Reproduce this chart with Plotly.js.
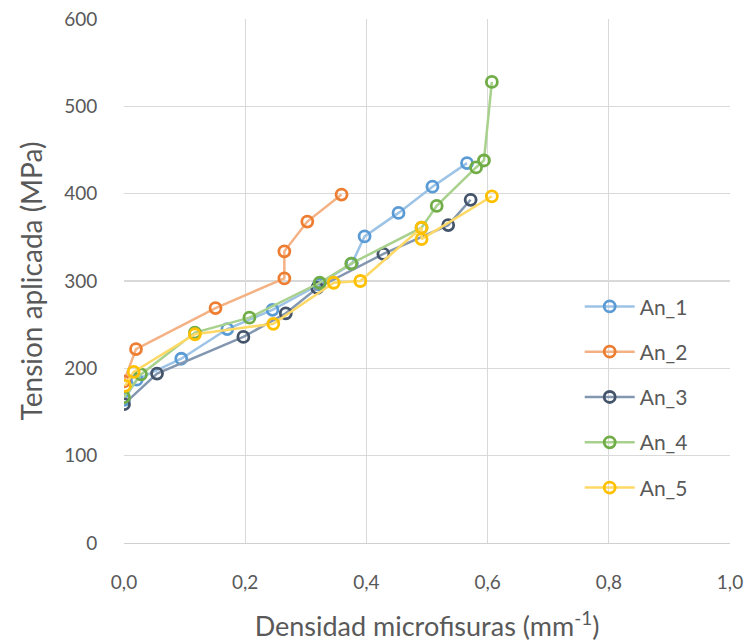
<!DOCTYPE html>
<html>
<head>
<meta charset="utf-8">
<script src="https://cdn.plot.ly/plotly-3.0.1.min.js"></script>
<style>html,body{margin:0;padding:0;background:#fff;}#chart{width:747px;height:642px;}</style>
</head>
<body>
<div id="chart"></div>
<script>
const seriesNames = ["An_1", "An_2", "An_3", "An_4", "An_5"];
const an1_x = [0.0, 0.021, 0.0945, 0.1705, 0.245, 0.322, 0.376, 0.397, 0.453, 0.509, 0.566];
const an1_y = [164, 187, 211, 245, 267, 296, 320, 351, 378, 408, 435];
const an2_x = [0.0, 0.0198, 0.151, 0.2646, 0.2646, 0.3025, 0.359];
const an2_y = [185, 222, 269, 303, 334, 368, 399];
const an3_x = [0.0, 0.0545, 0.197, 0.267, 0.319, 0.428, 0.535, 0.572];
const an3_y = [159, 194, 236, 263, 292, 331, 364, 393];
const an4_x = [0.0, 0.028, 0.117, 0.207, 0.323, 0.375, 0.491, 0.516, 0.581, 0.594, 0.607];
const an4_y = [167, 193, 241, 258, 298, 320, 361, 386, 430, 438, 528];
const an5_x = [0.0016, 0.016, 0.117, 0.2464, 0.346, 0.390, 0.491, 0.491, 0.607];
const an5_y = [180, 196, 239, 251, 298, 300, 361, 348, 397];

const xs = [an1_x, an2_x, an3_x, an4_x, an5_x];
const ys = [an1_y, an2_y, an3_y, an4_y, an5_y];
const lineColors = ["#9dc3e6", "#f4b183", "#8497b0", "#a9d18e", "#ffd966"];
const markerColors = ["#5b9bd5", "#ed7d31", "#44546a", "#70ad47", "#ffc000"];

const FONT = "Lato, 'Open Sans', sans-serif";

const traces = seriesNames.map((n, i) => ({
  type: "scatter",
  mode: "lines+markers",
  name: n,
  legendgroup: n,
  x: xs[i],
  y: ys[i],
  line: {color: lineColors[i], width: 2.5},
  marker: {symbol: "circle-open", size: 11, color: markerColors[i], line: {width: 2.8, color: markerColors[i]}}
}));

const layout = {
  width: 747, height: 642,
  margin: {l: 124, r: 17, t: 19, b: 99},
  paper_bgcolor: "#ffffff",
  plot_bgcolor: "#ffffff",
  separators: ",.",
  font: {family: FONT, color: "#595959"},
  showlegend: true,
  legend: {
    x: 0.752, y: 0.49, xanchor: "left", yanchor: "top",
    bgcolor: "rgba(0,0,0,0)",
    font: {family: FONT, size: 21, color: "#595959"},
    traceorder: "grouped",
    tracegroupgap: 15,
    itemwidth: 50
  },
  xaxis: {
    range: [0, 1.0],
    dtick: 0.2, tick0: 0,
    tickformat: ".1f",
    showgrid: true, gridcolor: "#d9d9d9", gridwidth: 1.3,
    zeroline: false,
    showline: true, linecolor: "#d0d0d0", linewidth: 1.3,
    ticks: "outside", ticklen: 22, tickcolor: "rgba(0,0,0,0)",
    tickfont: {family: FONT, size: 19, color: "#595959"},
    title: {text: "Densidad microfisuras (mm<sup>-1</sup>)", font: {family: FONT, size: 27, color: "#595959"}, standoff: 25},
    fixedrange: true
  },
  yaxis: {
    range: [0, 600],
    dtick: 100, tick0: 0,
    showgrid: true, gridcolor: "#d9d9d9", gridwidth: 1.3,
    zeroline: false,
    showline: false,
    ticks: "outside", ticklen: 22, tickcolor: "rgba(0,0,0,0)",
    tickfont: {family: FONT, size: 19, color: "#595959"},
    title: {text: "Tension aplicada (MPa)", font: {family: FONT, size: 28, color: "#595959"}, standoff: 13},
    fixedrange: true
  }
};

Plotly.newPlot("chart", traces, layout, {displayModeBar: false, staticPlot: true});
</script>
</body>
</html>
